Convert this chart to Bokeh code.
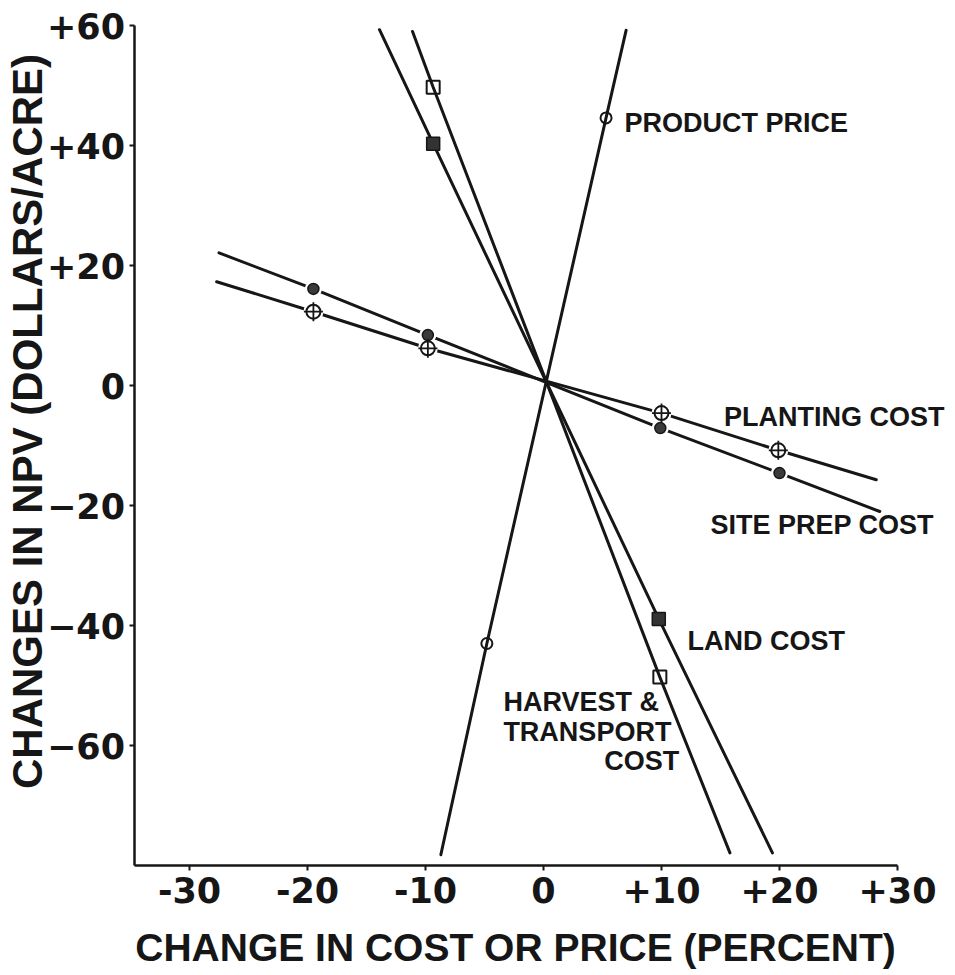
import math
from bokeh.plotting import figure
from bokeh.models import Range1d, FixedTicker, Label
from bokeh.embed import file_html
from bokeh.resources import INLINE

# ---- data (percent change, change in NPV $/acre) ----
price_line_x = [-8.7, -4.8, 5.3, 7.0]
price_line_y = [-78.2, -43.0, 44.6, 59.2]
price_pts_x = [-4.8, 5.3]
price_pts_y = [-43.0, 44.6]

harvest_line_x = [-11.1, -9.35, 9.86, 15.8]
harvest_line_y = [59.0, 49.7, -48.6, -77.9]
harvest_pts_x = [-9.35, 9.86]
harvest_pts_y = [49.7, -48.6]

land_line_x = [-13.9, -9.35, 9.77, 19.4]
land_line_y = [59.3, 40.3, -38.9, -77.9]
land_pts_x = [-9.35, 9.77]
land_pts_y = [40.3, -38.9]

plant_line_x = [-27.7, -19.5, -9.8, 10.0, 19.9, 28.2]
plant_line_y = [17.3, 12.3, 6.2, -4.6, -10.8, -15.7]
plant_pts_x = [-19.5, -9.8, 10.0, 19.9]
plant_pts_y = [12.3, 6.2, -4.6, -10.8]

site_line_x = [-27.5, -19.5, -9.8, 9.9, 20.0, 28.5]
site_line_y = [22.1, 16.1, 8.4, -7.1, -14.6, -21.0]
site_pts_x = [-19.5, -9.8, 9.9, 20.0]
site_pts_y = [16.1, 8.4, -7.1, -14.6]

x_ticks = [-30, -20, -10, 0, 10, 20, 30]
x_tick_labels = ["-30", "-20", "-10", "0", "+10", "+20", "+30"]
y_ticks = [60, 40, 20, 0, -20, -40, -60]
y_tick_labels = ["+60", "+40", "+20", "0", "\u221220", "\u221240", "\u221260"]

x_title = "CHANGE IN COST OR PRICE (PERCENT)"
y_title = "CHANGES IN NPV (DOLLARS/ACRE)"

X_MIN, X_MAX = -34.7, 30     # extent of the drawn x axis
Y_MIN, Y_MAX = -80, 60       # extent of the drawn y axis

# ---- figure ----
INK = "#161616"
TICK_FONT = "DejaVu Sans"
TEXT_FONT = "Liberation Sans"

p = figure(width=955, height=975, output_backend="svg", toolbar_location=None,
           x_range=Range1d(-46.017, 34.915), y_range=Range1d(-98.333, 64.167),
           min_border=0, min_border_left=0, min_border_right=0,
           min_border_top=0, min_border_bottom=0)
p.outline_line_color = None
p.grid.visible = False
p.background_fill_color = "white"
p.border_fill_color = "white"

for ax in (p.xaxis[0], p.yaxis[0]):
    ax.axis_line_color = INK
    ax.axis_line_width = 2.5
    ax.major_tick_line_color = INK
    ax.major_tick_line_width = 2
    ax.major_tick_out = 5
    ax.major_tick_in = 0
    ax.minor_tick_line_color = None
    ax.major_label_text_font = TICK_FONT
    ax.major_label_text_font_style = "bold"
    ax.major_label_text_color = INK
    ax.major_label_text_font_size = "35px"

p.xaxis.fixed_location = Y_MIN
p.xaxis.bounds = (X_MIN, X_MAX)
p.xaxis.ticker = FixedTicker(ticks=x_ticks)
p.xaxis.major_label_overrides = {t: l for t, l in zip(x_ticks, x_tick_labels)}
p.xaxis.major_label_standoff = 6

p.yaxis.fixed_location = X_MIN
p.yaxis.bounds = (Y_MIN, Y_MAX)
p.yaxis.ticker = FixedTicker(ticks=y_ticks)
p.yaxis.major_label_overrides = {t: l for t, l in zip(y_ticks, y_tick_labels)}
p.yaxis.major_label_standoff = 4

# ---- lines ----
for lx, ly in [(price_line_x, price_line_y), (harvest_line_x, harvest_line_y),
               (land_line_x, land_line_y), (plant_line_x, plant_line_y),
               (site_line_x, site_line_y)]:
    p.line(lx, ly, line_color=INK, line_width=3, line_cap="round")

# white halos that break the lines around the round markers
p.scatter(plant_pts_x, plant_pts_y, marker="circle", size=20,
          fill_color="white", line_color=None)
p.scatter(site_pts_x, site_pts_y, marker="circle", size=17,
          fill_color="white", line_color=None)

# ---- markers ----
p.scatter(price_pts_x, price_pts_y, marker="circle", size=11,
          fill_color=None, line_color=INK, line_width=2)
p.scatter(harvest_pts_x, harvest_pts_y, marker="square", size=13,
          fill_color=None, line_color=INK, line_width=2)
p.scatter(land_pts_x, land_pts_y, marker="square", size=13,
          fill_color="#333333", line_color=INK, line_width=1.5)
p.scatter(site_pts_x, site_pts_y, marker="circle", size=11,
          fill_color="#3a3a3a", line_color=INK, line_width=1.5)
p.scatter(plant_pts_x, plant_pts_y, marker="circle", size=14,
          fill_color="white", line_color=INK, line_width=2)
p.scatter(plant_pts_x, plant_pts_y, marker="cross", size=19,
          line_color=INK, line_width=1.8)

# ---- text ----
def lab(x, y, text, align="left", size="27px", angle=0.0):
    p.add_layout(Label(x=x, y=y, text=text, text_font=TEXT_FONT,
                       text_font_style="bold", text_font_size=size,
                       text_color=INK, text_align=align,
                       text_baseline="middle", angle=angle,
                       angle_units="rad"))

lab(6.86, 43.7, "PRODUCT PRICE")
lab(15.3, -5.2, "PLANTING COST")
lab(14.15, -23.3, "SITE PREP COST")
lab(12.2, -42.5, "LAND COST")
lab(-3.4, -52.8, "HARVEST &")
lab(-3.4, -57.8, "TRANSPORT")
lab(11.5, -62.5, "COST", align="right")

# axis titles
lab(-2.37, -93.7, x_title, align="center", size="39px")
lab(-43.7, -6.0, y_title, align="center", size="42px", angle=math.pi / 2)

open("out.html", "w").write(file_html(p, INLINE))
